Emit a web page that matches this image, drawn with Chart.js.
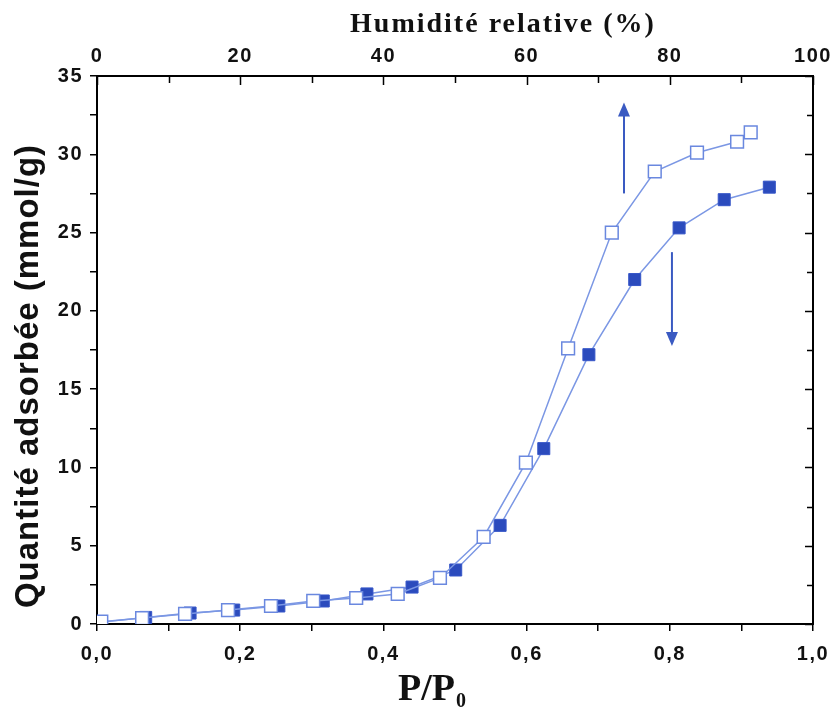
<!DOCTYPE html>
<html>
<head>
<meta charset="utf-8">
<script src="https://cdn.jsdelivr.net/npm/chart.js@4"></script>
<style>
  body { margin: 0; background: #fff; }
  #wrap { width: 831px; height: 707px; }
</style>
</head>
<body>
<div id="wrap"><canvas id="isotherm"></canvas></div>
<script>
// Open squares (upper branch)
const openX = [0.006, 0.063, 0.123, 0.183, 0.243, 0.302, 0.362, 0.420, 0.479, 0.540, 0.599, 0.658, 0.719, 0.779, 0.838, 0.894, 0.913];
const openY = [0.15, 0.38, 0.64, 0.89, 1.15, 1.47, 1.66, 1.92, 2.94, 5.56, 10.3, 17.6, 25.0, 28.9, 30.1, 30.8, 31.4];

// Filled squares (lower branch)
const filledX = [0.006, 0.068, 0.130, 0.191, 0.254, 0.316, 0.377, 0.440, 0.501, 0.563, 0.624, 0.687, 0.751, 0.813, 0.876, 0.939];
const filledY = [0.12, 0.42, 0.70, 0.89, 1.15, 1.47, 1.92, 2.36, 3.45, 6.3, 11.2, 17.2, 22.0, 25.3, 27.1, 27.9];

// Arrows: [x, yFrom, yTo] in data units
const arrows = [[0.736, 27.5, 33.3], [0.803, 23.75, 17.75]];

const xTicks = [0, 0.2, 0.4, 0.6, 0.8, 1.0];
const topTicks = [0, 20, 40, 60, 80, 100];
const yTicks = [0, 5, 10, 15, 20, 25, 30, 35];

const lineBlue = '#7b97e4';
const openEdge = '#6a88df';
const fillBlue = '#2b4bbd';
const arrowBlue = '#3a5ac2';

const toPoints = (xs, ys) => xs.map((x, i) => ({ x: x, y: ys[i] }));
const isOn = (v, list) => list.some(t => Math.abs(t - v) < 1e-6);
const fmt = v => v.toFixed(1).replace('.', ',');

// wider spacing for the tick numbers
const spacing = {
    id: 'spacing',
    beforeDraw(chart) { chart.ctx.letterSpacing = '1.5px'; }
};

// inward tick marks on the top and right frames
const innerTicks = {
    id: 'innerTicks',
    afterDraw(chart) {
        const { ctx, chartArea: a, scales } = chart;
        ctx.save();
        ctx.strokeStyle = '#000';
        ctx.lineWidth = 1.5;
        ctx.beginPath();
        scales.x2.ticks.forEach(t => {
            const px = Math.round(scales.x2.getPixelForValue(t.value)) + 0.5;
            const len = isOn(t.value, topTicks) ? 9 : 7;
            ctx.moveTo(px, a.top);
            ctx.lineTo(px, a.top + len);
        });
        scales.y2.ticks.forEach(t => {
            const py = Math.round(scales.y2.getPixelForValue(t.value)) + 0.5;
            const len = isOn(t.value, yTicks) ? 8 : 6;
            ctx.moveTo(a.right, py);
            ctx.lineTo(a.right - len, py);
        });
        ctx.stroke();
        ctx.restore();
    }
};

// the two vertical arrows
const arrowMarks = {
    id: 'arrowMarks',
    afterDatasetsDraw(chart) {
        const { ctx, scales: { x, y } } = chart;
        ctx.save();
        ctx.strokeStyle = arrowBlue;
        ctx.fillStyle = arrowBlue;
        ctx.lineWidth = 2;
        arrows.forEach(([ax, y0, y1]) => {
            const px = x.getPixelForValue(ax);
            const p0 = y.getPixelForValue(y0);
            const p1 = y.getPixelForValue(y1);
            const dir = p1 < p0 ? -1 : 1;
            ctx.beginPath();
            ctx.moveTo(px, p0);
            ctx.lineTo(px, p1 - dir * 12);
            ctx.stroke();
            ctx.beginPath();
            ctx.moveTo(px, p1);
            ctx.lineTo(px - 6, p1 - dir * 14);
            ctx.lineTo(px + 6, p1 - dir * 14);
            ctx.closePath();
            ctx.fill();
        });
        ctx.restore();
    }
};

// axis titles (P/P0 needs a subscript)
const axisTitles = {
    id: 'axisTitles',
    afterDraw(chart) {
        const { ctx } = chart;
        ctx.save();
        ctx.fillStyle = '#111';
        ctx.textAlign = 'center';
        ctx.textBaseline = 'alphabetic';

        ctx.font = 'bold 28px "Liberation Serif"';
        ctx.letterSpacing = '2px';
        ctx.fillText('Humidité relative (%)', 503, 32);

        ctx.letterSpacing = '0px';
        ctx.font = 'bold 38px "Liberation Serif"';
        ctx.textAlign = 'left';
        const main = 'P/P';
        const w = ctx.measureText(main).width;
        const left = 433 - (w + 13) / 2;
        ctx.fillText(main, left, 700);
        ctx.font = 'bold 20px "Liberation Serif"';
        ctx.fillText('0', left + w + 1, 707);

        ctx.translate(29, 376);
        ctx.rotate(-Math.PI / 2);
        ctx.textAlign = 'center';
        ctx.textBaseline = 'middle';
        ctx.letterSpacing = '1px';
        ctx.font = 'bold 33px "Liberation Sans"';
        ctx.fillText('Quantité adsorbée (mmol/g)', 0, 0);
        ctx.restore();
    }
};

const tickFont = { family: '"Liberation Sans"', weight: 'bold', size: 20 };
const frame = { display: true, color: '#000', width: 2 };

new Chart(document.getElementById('isotherm'), {
    type: 'scatter',
    data: {
        datasets: [
            {
                label: 'ouvert',
                data: toPoints(openX, openY),
                showLine: true,
                borderColor: lineBlue,
                borderWidth: 1.5,
                pointStyle: 'rect',
                pointRadius: 9,
                pointBackgroundColor: '#fff',
                pointBorderColor: openEdge,
                pointBorderWidth: 1.5,
                order: 1
            },
            {
                label: 'plein',
                data: toPoints(filledX, filledY),
                showLine: true,
                borderColor: lineBlue,
                borderWidth: 1.5,
                pointStyle: 'rect',
                pointRadius: 8.5,
                pointBackgroundColor: fillBlue,
                pointBorderColor: '#3656c8',
                pointBorderWidth: 1,
                order: 2
            }
        ]
    },
    options: {
        responsive: true,
        maintainAspectRatio: false,
        animation: false,
        layout: { padding: 0 },
        plugins: {
            legend: { display: false },
            tooltip: { enabled: false }
        },
        scales: {
            x: {
                type: 'linear',
                position: 'bottom',
                min: 0, max: 1,
                border: frame,
                grid: { drawOnChartArea: false, color: '#000', lineWidth: 1.5, tickLength: 7 },
                ticks: {
                    stepSize: 0.1,
                    autoSkip: false,
                    maxRotation: 0,
                    padding: 11,
                    color: '#111',
                    font: tickFont,
                    callback: v => isOn(v, xTicks) ? fmt(v) : ''
                },
                afterFit: s => { s.height = 83; s.paddingLeft = 0; s.paddingRight = 0; }
            },
            x2: {
                type: 'linear',
                position: 'top',
                min: 0, max: 100,
                border: frame,
                grid: { display: true, drawOnChartArea: false, drawTicks: false },
                ticks: {
                    stepSize: 10,
                    autoSkip: false,
                    maxRotation: 0,
                    padding: 8,
                    color: '#111',
                    font: tickFont,
                    callback: v => isOn(v, topTicks) ? String(v) : ''
                },
                afterFit: s => { s.height = 76; s.paddingLeft = 0; s.paddingRight = 0; }
            },
            y: {
                type: 'linear',
                position: 'left',
                min: 0, max: 35,
                border: frame,
                grid: { drawOnChartArea: false, color: '#000', lineWidth: 1.5, tickLength: 7 },
                ticks: {
                    stepSize: 2.5,
                    autoSkip: false,
                    padding: 7,
                    color: '#111',
                    font: tickFont,
                    callback: v => isOn(v, yTicks) ? String(v) : ''
                },
                afterFit: s => { s.width = 97; s.paddingTop = 0; s.paddingBottom = 0; }
            },
            y2: {
                type: 'linear',
                position: 'right',
                min: 0, max: 35,
                border: frame,
                grid: { display: true, drawOnChartArea: false, drawTicks: false },
                ticks: { stepSize: 2.5, display: false },
                afterFit: s => { s.width = 18; s.paddingTop = 0; s.paddingBottom = 0; }
            }
        }
    },
    plugins: [spacing, innerTicks, arrowMarks, axisTitles]
});
</script>
</body>
</html>
